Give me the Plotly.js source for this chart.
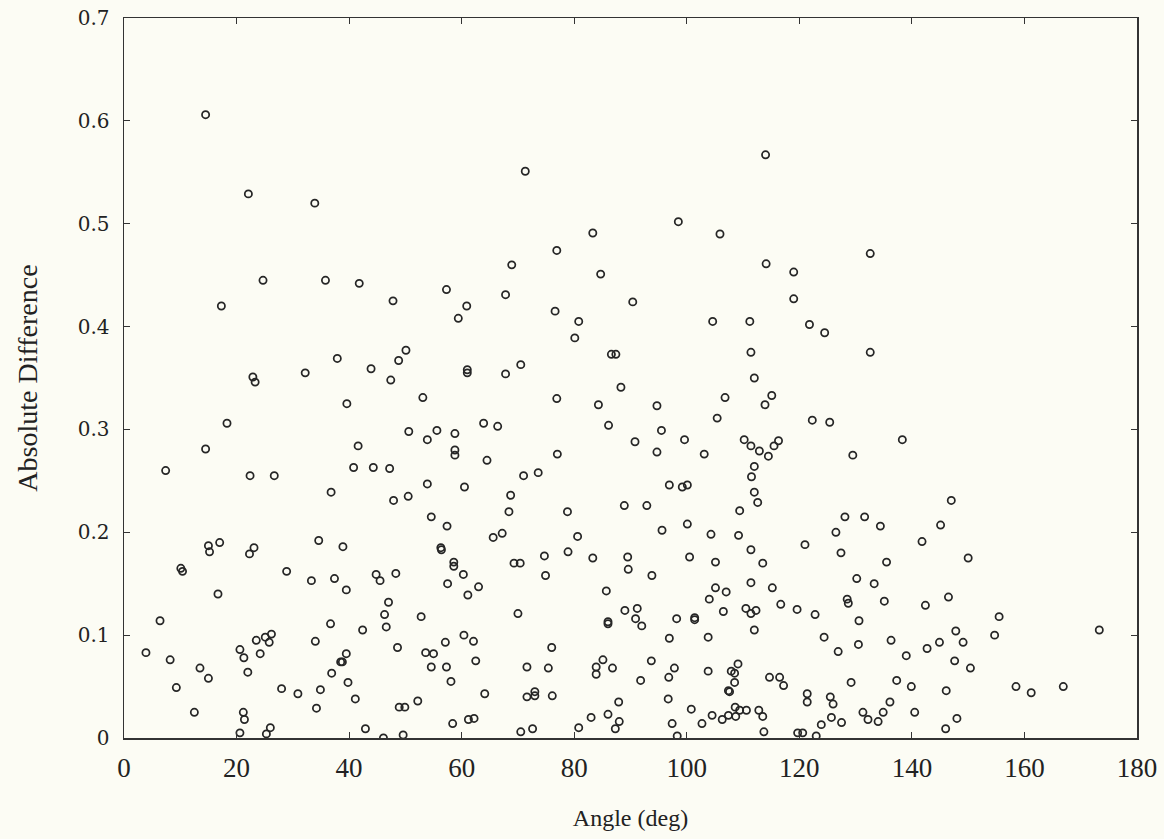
<!DOCTYPE html>
<html>
<head>
<meta charset="utf-8">
<script src="https://cdn.plot.ly/plotly-3.0.1.min.js"></script>
<style>
  html, body { margin: 0; padding: 0; background: #fcfcf4; }
  #chart { width: 1164px; height: 839px; }
</style>
</head>
<body>
<div id="chart"></div>
<script>
// Angle (deg)
const angle = [
  3.9, 6.4, 7.4, 8.2, 9.3, 10.1, 10.4, 12.5, 13.5, 14.5,
  14.5, 15.0, 15.0, 15.2, 16.7, 17.0, 17.3, 18.3, 20.6, 21.3,
  20.6, 21.2, 21.4, 22.0, 22.3, 22.1, 22.4, 23.1, 22.9, 23.3,
  23.5, 24.2, 24.7, 25.1, 25.3, 25.8, 26.0, 26.2, 26.7, 28.0,
  28.9, 30.9, 32.2, 33.3, 34.0, 34.2, 33.9, 34.6, 34.9, 35.8,
  36.7, 36.8, 36.9, 37.4, 37.9, 38.5, 38.8, 38.9, 39.5, 39.5,
  39.6, 39.8, 40.8, 41.1, 41.6, 41.8, 42.4, 42.9, 43.9, 44.3,
  44.8, 45.5, 46.1, 46.3, 46.6, 47.0, 47.2, 47.4, 47.9, 47.8,
  48.3, 48.6, 48.9, 48.8, 49.6, 49.9, 50.1, 50.5, 50.6, 52.2,
  52.8, 53.1, 53.6, 53.9, 53.9, 54.6, 54.6, 55.0, 55.6, 56.3,
  56.4, 57.1, 57.3, 57.4, 57.5, 57.3, 58.1, 58.4, 58.6, 58.6,
  58.8, 58.8, 58.8, 59.4, 60.3, 60.4, 60.5, 61.2, 60.9, 61.1,
  61.0, 61.0, 62.1, 62.2, 62.5, 63.0, 63.9, 64.1, 64.5, 65.6,
  66.4, 67.2, 67.8, 67.8, 68.4, 68.7, 68.9, 69.3, 70.0, 70.4,
  70.5, 70.5, 71.0, 71.6, 71.6, 71.3, 72.6, 73.0, 73.0, 73.6,
  74.7, 74.9, 75.4, 76.0, 76.1, 76.6, 76.9, 77.0, 76.9, 78.8,
  78.9, 80.1, 80.6, 80.8, 80.8, 83.0, 83.3, 83.3, 83.9, 83.9,
  84.3, 84.7, 85.1, 85.7, 86.0, 86.0, 86.0, 86.1, 86.8, 86.6,
  87.3, 87.4, 87.9, 88.0, 88.3, 88.9, 89.0, 89.5, 89.6, 90.4,
  90.8, 90.9, 91.2, 91.8, 92.0, 92.9, 93.7, 93.8, 94.7, 94.7,
  95.5, 95.6, 96.7, 96.8, 96.9, 96.9, 97.4, 97.8, 98.2, 98.3,
  98.5, 99.2, 99.6, 100.1, 100.1, 100.5, 100.8, 101.4, 101.4, 102.7,
  103.1, 103.8, 103.8, 104.0, 104.3, 104.5, 104.6, 105.1, 105.1, 105.4,
  106.3, 105.9, 106.5, 106.8, 107.0, 107.4, 107.4, 107.6, 107.9, 108.5,
  108.5, 108.6, 108.7, 109.1, 109.2, 109.4, 109.4, 110.2, 110.5, 110.6,
  111.4, 111.2, 111.4, 111.4, 111.4, 111.4, 111.5, 112.0, 112.0, 112.0,
  112.0, 112.3, 112.6, 112.8, 112.9, 113.5, 113.5, 113.7, 113.9, 114.0,
  114.1, 114.5, 114.7, 115.2, 115.1, 115.5, 116.3, 116.5, 116.7, 117.2,
  119.0, 119.0, 119.6, 119.7, 120.6, 121.0, 121.4, 121.4, 121.8, 122.3,
  122.8, 123.0, 123.9, 124.4, 124.5, 125.5, 125.4, 125.7, 126.0, 126.5,
  126.9, 127.5, 127.4, 128.1, 128.5, 128.7, 129.2, 129.5, 130.2, 130.5,
  130.6, 131.3, 131.6, 132.2, 132.6, 132.6, 133.3, 134.0, 134.4, 134.9,
  135.1, 135.5, 136.1, 136.3, 137.3, 138.3, 139.0, 139.9, 140.5, 141.8,
  142.4, 142.7, 144.9, 145.1, 146.0, 146.1, 146.5, 147.0, 147.6, 147.8,
  148.0, 149.1, 150.0, 150.4, 154.7, 155.5, 158.5, 161.2, 166.9, 173.3
];

// Absolute Difference
const absDiff = [
  0.083, 0.114, 0.260, 0.076, 0.049, 0.165, 0.162, 0.025, 0.068, 0.281,
  0.606, 0.058, 0.187, 0.181, 0.140, 0.190, 0.420, 0.306, 0.086, 0.078,
  0.005, 0.025, 0.018, 0.064, 0.179, 0.529, 0.255, 0.185, 0.351, 0.346,
  0.095, 0.082, 0.445, 0.098, 0.004, 0.093, 0.010, 0.101, 0.255, 0.048,
  0.162, 0.043, 0.355, 0.153, 0.094, 0.029, 0.520, 0.192, 0.047, 0.445,
  0.111, 0.239, 0.063, 0.155, 0.369, 0.074, 0.074, 0.186, 0.082, 0.144,
  0.325, 0.054, 0.263, 0.038, 0.284, 0.442, 0.105, 0.009, 0.359, 0.263,
  0.159, 0.153, 0.000, 0.120, 0.108, 0.132, 0.262, 0.348, 0.231, 0.425,
  0.160, 0.088, 0.030, 0.367, 0.003, 0.030, 0.377, 0.235, 0.298, 0.036,
  0.118, 0.331, 0.083, 0.247, 0.290, 0.069, 0.215, 0.082, 0.299, 0.185,
  0.183, 0.093, 0.069, 0.206, 0.150, 0.436, 0.055, 0.014, 0.171, 0.167,
  0.296, 0.280, 0.275, 0.408, 0.159, 0.100, 0.244, 0.018, 0.420, 0.139,
  0.358, 0.355, 0.094, 0.019, 0.075, 0.147, 0.306, 0.043, 0.270, 0.195,
  0.303, 0.199, 0.431, 0.354, 0.220, 0.236, 0.460, 0.170, 0.121, 0.170,
  0.006, 0.363, 0.255, 0.069, 0.040, 0.551, 0.009, 0.045, 0.041, 0.258,
  0.177, 0.158, 0.068, 0.088, 0.041, 0.415, 0.330, 0.276, 0.474, 0.220,
  0.181, 0.389, 0.196, 0.010, 0.405, 0.020, 0.175, 0.491, 0.069, 0.062,
  0.324, 0.451, 0.076, 0.143, 0.023, 0.113, 0.111, 0.304, 0.068, 0.373,
  0.009, 0.373, 0.035, 0.016, 0.341, 0.226, 0.124, 0.176, 0.164, 0.424,
  0.288, 0.116, 0.126, 0.056, 0.109, 0.226, 0.075, 0.158, 0.278, 0.323,
  0.299, 0.202, 0.038, 0.059, 0.097, 0.246, 0.014, 0.068, 0.116, 0.002,
  0.502, 0.244, 0.290, 0.246, 0.208, 0.176, 0.028, 0.117, 0.115, 0.014,
  0.276, 0.098, 0.065, 0.135, 0.198, 0.022, 0.405, 0.146, 0.171, 0.311,
  0.018, 0.490, 0.123, 0.331, 0.142, 0.022, 0.046, 0.045, 0.065, 0.063,
  0.054, 0.030, 0.021, 0.072, 0.197, 0.027, 0.221, 0.290, 0.126, 0.027,
  0.121, 0.405, 0.183, 0.151, 0.284, 0.375, 0.254, 0.105, 0.264, 0.239,
  0.350, 0.124, 0.229, 0.027, 0.279, 0.021, 0.170, 0.006, 0.324, 0.567,
  0.461, 0.274, 0.059, 0.146, 0.333, 0.284, 0.289, 0.059, 0.130, 0.051,
  0.453, 0.427, 0.125, 0.005, 0.005, 0.188, 0.043, 0.035, 0.402, 0.309,
  0.120, 0.002, 0.013, 0.098, 0.394, 0.040, 0.307, 0.020, 0.033, 0.200,
  0.084, 0.015, 0.180, 0.215, 0.135, 0.131, 0.054, 0.275, 0.155, 0.091,
  0.114, 0.025, 0.215, 0.018, 0.471, 0.375, 0.150, 0.016, 0.206, 0.025,
  0.133, 0.171, 0.035, 0.095, 0.056, 0.290, 0.080, 0.050, 0.025, 0.191,
  0.129, 0.087, 0.093, 0.207, 0.009, 0.046, 0.137, 0.231, 0.075, 0.104,
  0.019, 0.093, 0.175, 0.068, 0.100, 0.118, 0.050, 0.044, 0.050, 0.105
];

const xTicks = [0, 20, 40, 60, 80, 100, 120, 140, 160, 180];
const yTicks = [0, 0.1, 0.2, 0.3, 0.4, 0.5, 0.6, 0.7];
const yTickText = ['0', '0.1', '0.2', '0.3', '0.4', '0.5', '0.6', '0.7'];

const wideSerif = 'DejaVu Serif, serif';
const narrowSerif = 'Liberation Serif, Times New Roman, serif';
const ink = '#262626';

const trace = {
  type: 'scatter',
  mode: 'markers',
  x: angle,
  y: absDiff,
  marker: {
    symbol: 'circle-open',
    size: 7.2,
    color: ink,
    line: { width: 1.75, color: ink }
  },
  hoverinfo: 'x+y',
  showlegend: false
};

const layout = {
  width: 1164,
  height: 839,
  paper_bgcolor: '#fcfcf4',
  plot_bgcolor: '#fcfcf4',
  margin: { l: 124, r: 27, t: 18, b: 101 },
  font: { family: narrowSerif, color: '#222' },
  xaxis: {
    range: [0, 180],
    tickvals: xTicks,
    ticktext: xTicks.map(String),
    ticks: 'inside',
    ticklen: 6,
    tickwidth: 1.2,
    tickcolor: '#333',
    showline: true,
    linecolor: '#333',
    linewidth: 1.5,
    mirror: 'ticks',
    showgrid: false,
    zeroline: false,
    tickfont: { family: narrowSerif, size: 27, color: '#222' },
    ticklabelstandoff: 5,
    title: { text: 'Angle (deg)', font: { family: narrowSerif, size: 24, color: '#222' }, standoff: 27 }
  },
  yaxis: {
    range: [0, 0.7],
    tickvals: yTicks,
    ticktext: yTickText,
    ticks: 'inside',
    ticklen: 6,
    tickwidth: 1.2,
    tickcolor: '#333',
    showline: true,
    linecolor: '#333',
    linewidth: 1.5,
    mirror: 'ticks',
    showgrid: false,
    zeroline: false,
    tickfont: { family: wideSerif, size: 20, color: '#222' },
    ticklabelstandoff: 9,
    title: { text: 'Absolute Difference', font: { family: narrowSerif, size: 28, color: '#222' }, standoff: 32 }
  }
};

Plotly.newPlot('chart', [trace], layout, { staticPlot: true, displayModeBar: false });
</script>
</body>
</html>
